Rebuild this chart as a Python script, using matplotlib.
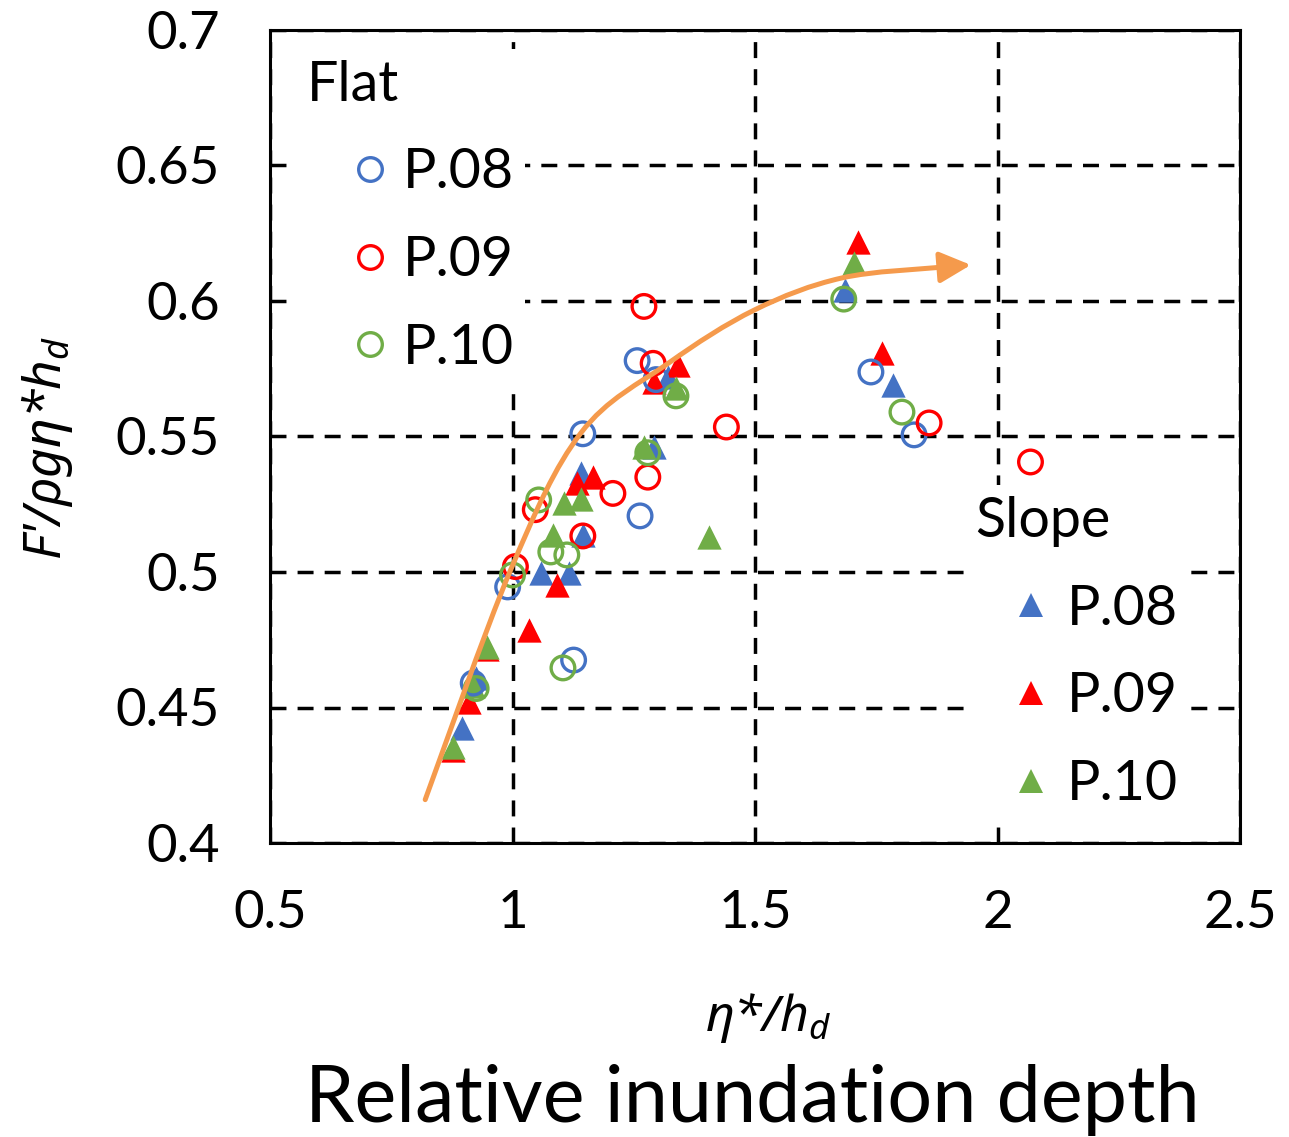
import numpy as np
import matplotlib
matplotlib.use("Agg")
import matplotlib.pyplot as plt
from matplotlib.lines import Line2D
from matplotlib.path import Path
from matplotlib.patches import FancyArrowPatch

plt.rcParams['font.family'] = ['Lato', 'DejaVu Sans']
plt.rcParams['mathtext.fontset'] = 'custom'
plt.rcParams['mathtext.it'] = 'Noto Sans:italic'
plt.rcParams['mathtext.rm'] = 'Noto Sans'

# ---- data ----
flat_p08_x = [0.990, 1.126, 0.919, 1.145, 1.257, 1.296, 1.263, 1.739, 1.828]
flat_p08_y = [0.4945, 0.4675, 0.459, 0.551, 0.578, 0.571, 0.5207, 0.5738, 0.5506]

flat_p09_x = [1.271, 1.290, 1.279, 1.207, 1.047, 1.441, 1.145, 1.006, 1.859, 2.068]
flat_p09_y = [0.598, 0.577, 0.535, 0.529, 0.523, 0.5535, 0.5133, 0.502, 0.555, 0.5406]

flat_p10_x = [1.337, 1.279, 1.054, 1.079, 1.112, 1.000, 1.104, 0.925, 1.683, 1.803]
flat_p10_y = [0.565, 0.544, 0.5266, 0.5074, 0.5063, 0.4989, 0.4646, 0.457, 0.6007, 0.559]

slope_p08_x = [1.058, 1.116, 1.145, 0.896, 0.924, 1.141, 1.292, 1.321, 1.685, 1.784]
slope_p08_y = [0.4996, 0.4996, 0.5137, 0.4424, 0.461, 0.5365, 0.546, 0.572, 0.604, 0.569]

slope_p09_x = [1.341, 1.292, 1.165, 1.134, 1.091, 1.035, 0.948, 0.911, 0.878, 1.712, 1.762]
slope_p09_y = [0.5764, 0.570, 0.535, 0.533, 0.4952, 0.4786, 0.4715, 0.452, 0.4345, 0.6218, 0.5808]

slope_p10_x = [1.337, 1.271, 1.141, 1.106, 1.406, 1.083, 0.948, 0.919, 0.878, 1.704]
slope_p10_y = [0.568, 0.546, 0.527, 0.5255, 0.513, 0.5137, 0.4725, 0.458, 0.4355, 0.614]

# trend arrow waypoints (annotation)
trend_x = [0.82, 0.996, 1.141, 1.321, 1.499, 1.679, 1.886, 1.945]
trend_y = [0.416, 0.5007, 0.5513, 0.577, 0.5967, 0.6085, 0.6125, 0.6133]

series_labels = ['P.08', 'P.09', 'P.10']
colors = ['#4472C4', '#FF0000', '#70AD47']
x_ticks = [0.5, 1, 1.5, 2, 2.5]
x_tick_labels = ['0.5', '1', '1.5', '2', '2.5']
y_ticks = [0.4, 0.45, 0.5, 0.55, 0.6, 0.65, 0.7]
y_tick_labels = ['0.4', '0.45', '0.5', '0.55', '0.6', '0.65', '0.7']

W, H = 1289, 1137
fig = plt.figure(figsize=(W / 100, H / 100), dpi=100)
ax = fig.add_axes([270 / W, 1 - 843 / H, 970 / W, 813 / H])
ax.set_xlim(0.5, 2.5)
ax.set_ylim(0.4, 0.7)

ax.set_xticks(x_ticks)
ax.set_xticklabels(x_tick_labels)
ax.set_yticks(y_ticks)
ax.set_yticklabels(y_tick_labels)
ax.tick_params(length=0, labelsize=38)
ax.tick_params(axis='y', pad=36)
ax.tick_params(axis='x', pad=34)

for s in ax.spines.values():
    s.set_linewidth(2.2)
    s.set_color('black')

ax.grid(True, color='black', linewidth=2.5, linestyle=(0, (4.6, 3.2)), zorder=0)
ax.set_axisbelow(True)

ms = 17
circ_kw = dict(marker='o', s=ms**2, facecolors='none', linewidths=2.4, zorder=3)
tri_kw = dict(marker='^', s=(ms + 0.5)**2, linewidths=0, zorder=3)

slope_sets = [(slope_p08_x, slope_p08_y), (slope_p09_x, slope_p09_y), (slope_p10_x, slope_p10_y)]
flat_sets = [(flat_p08_x, flat_p08_y), (flat_p09_x, flat_p09_y), (flat_p10_x, flat_p10_y)]
for (xs, ys), c in zip(slope_sets, colors):
    ax.scatter(xs, ys, color=c, **tri_kw)
for (xs, ys), c in zip(flat_sets, colors):
    ax.scatter(xs, ys, edgecolors=c, **circ_kw)

# smooth trend arrow (Catmull-Rom -> cubic Bezier)
P = np.column_stack([trend_x, trend_y])
verts = [tuple(P[0])]
codes = [Path.MOVETO]
n = len(P)
for i in range(n - 1):
    p0 = P[i - 1] if i > 0 else P[i]
    p1 = P[i]
    p2 = P[i + 1]
    p3 = P[i + 2] if i + 2 < n else P[i + 1]
    c1 = p1 + (p2 - p0) / 6.0
    c2 = p2 - (p3 - p1) / 6.0
    verts += [tuple(c1), tuple(c2), tuple(p2)]
    codes += [Path.CURVE4] * 3
arrow = FancyArrowPatch(path=Path(verts, codes),
                        arrowstyle='-|>,head_length=1.9,head_width=0.95',
                        mutation_scale=10, color='#F59A4C', lw=3.6, zorder=5)
ax.add_patch(arrow)

# legends
LFS = 40
flat_handles = [Line2D([], [], marker='o', ls='none', ms=ms, mfc='none', mec=c, mew=2.4) for c in colors]
slope_handles = [Line2D([], [], marker='^', ls='none', ms=ms, mfc=c, mec=c, mew=0) for c in colors]

common = dict(fontsize=LFS, title_fontsize=LFS, frameon=True, framealpha=1,
              edgecolor='none', facecolor='white', labelspacing=0.66,
              borderpad=0.2, borderaxespad=0, alignment='left', fancybox=False)
leg1 = ax.legend(flat_handles, series_labels, title='Flat', loc='upper left',
                 bbox_to_anchor=(0.027, 0.977), handlelength=2.27,
                 handletextpad=-0.55, **common)
leg1.set_zorder(4)
ax.add_artist(leg1)
leg2 = ax.legend(slope_handles, series_labels, title='Slope', loc='upper left',
                 bbox_to_anchor=(0.7155, 0.4405), handlelength=2.0,
                 handletextpad=-0.34, **common)
leg2.set_zorder(4)

fig.text(47 / W, 1 - 448 / H, "F'/ρgη*$h_d$", rotation=90, fontsize=37,
         family=['Noto Sans', 'DejaVu Sans'], style='italic', ha='center', va='center')
fig.text(768 / W, 1 - 1018 / H, "η*/$h_d$", fontsize=36,
         family=['Noto Sans', 'DejaVu Sans'], style='italic', ha='center', va='center')
fig.text(752 / W, 1 - 1100 / H, 'Relative inundation depth', fontsize=57,
         ha='center', va='center')

fig.savefig('out.png', dpi=100)
